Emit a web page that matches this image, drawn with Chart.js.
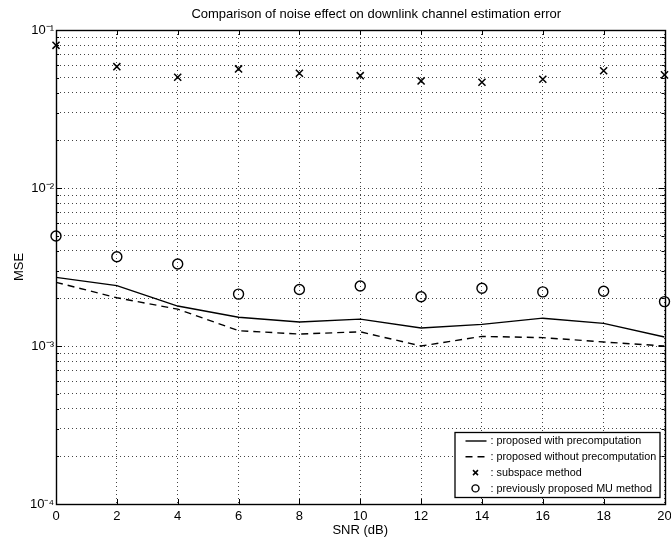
<!DOCTYPE html>
<html>
<head>
<meta charset="utf-8">
<style>
  html, body { margin: 0; padding: 0; background: #fff; }
  #wrap { width: 671px; height: 540px; }
</style>
<script src="https://cdn.jsdelivr.net/npm/chart.js@4/dist/chart.umd.min.js"></script>
</head>
<body>
<div id="wrap"><canvas id="c" width="671" height="540"></canvas></div>
<script>
const snr = [0, 2, 4, 6, 8, 10, 12, 14, 16, 18, 20];
const mseWithPre    = [0.00272, 0.00241, 0.00179, 0.00152, 0.00142, 0.00148, 0.00130, 0.00137, 0.00150, 0.00139, 0.00114];
const mseWithoutPre = [0.00253, 0.00202, 0.00171, 0.00125, 0.00119, 0.00123, 0.00100, 0.00115, 0.00113, 0.00106, 0.00100];
const mseSubspace   = [0.0800, 0.0586, 0.0502, 0.0567, 0.0532, 0.0514, 0.0476, 0.0467, 0.0488, 0.0552, 0.0520];
const mseMU         = [0.00497, 0.00367, 0.00330, 0.00213, 0.00228, 0.00240, 0.00205, 0.00232, 0.00220, 0.00222, 0.00191];
const xTickValues = [0, 2, 4, 6, 8, 10, 12, 14, 16, 18, 20];
const yDecades = [-4, -3, -2, -1];
const yTickLabels = ['10\u207B\u2074', '10\u207B\u00B3', '10\u207B\u00B2', '10\u207B\u00B9'];
const legendLabels = [': proposed with precomputation', ': proposed without precomputation', ': subspace method', ': previously proposed MU method'];
const chartTitle = 'Comparison of noise effect on downlink channel estimation error';

const FONT = 'Liberation Sans, Arial, Helvetica, sans-serif';
const toXY = (ys) => snr.map((x, i) => ({x, y: ys[i]}));

const titleShift = {
  id: 'titleShift',
  afterLayout(chart) {
    const tb = chart.titleBlock;
    if (tb) { tb.left = chart.chartArea.left + 32; tb.right = chart.chartArea.right; }
  }
};

const frameAndTicks = {
  id: 'frameAndTicks',
  afterDraw(chart) {
    const {ctx, chartArea: a, scales} = chart;
    ctx.save();
    ctx.strokeStyle = '#000';
    ctx.lineWidth = 1;
    ctx.beginPath();
    scales.x.ticks.forEach(t => {
      const px = Math.round(scales.x.getPixelForValue(t.value)) + 0.5;
      ctx.moveTo(px, a.bottom); ctx.lineTo(px, a.bottom - 5);
      ctx.moveTo(px, a.top); ctx.lineTo(px, a.top + 5);
    });
    scales.y.ticks.forEach(t => {
      const py = Math.round(scales.y.getPixelForValue(t.value)) + 0.5;
      const isMajor = Math.abs(Math.log10(t.value) - Math.round(Math.log10(t.value))) < 1e-9;
      const len = isMajor ? 6 : 3;
      ctx.moveTo(a.left, py); ctx.lineTo(a.left + len, py);
      ctx.moveTo(a.right, py); ctx.lineTo(a.right - len, py);
    });
    ctx.stroke();
    ctx.lineWidth = 1.4;
    ctx.strokeRect(Math.round(a.left) + 0.5, Math.round(a.top) + 0.5, Math.round(a.right - a.left), Math.round(a.bottom - a.top));
    ctx.restore();
  }
};

const boxLegend = {
  id: 'boxLegend',
  afterDatasetsDraw(chart) {
    const {ctx, chartArea: a} = chart;
    const right = a.right - 5, bottom = a.bottom - 7;
    const w = 205, h = 65;
    const left = right - w, top = bottom - h;
    ctx.save();
    ctx.fillStyle = '#fff';
    ctx.fillRect(left, top, w, h);
    ctx.strokeStyle = '#000';
    ctx.lineWidth = 1.3;
    ctx.strokeRect(left + 0.5, top + 0.5, w, h);
    ctx.font = '10.8px ' + FONT;
    ctx.fillStyle = '#000';
    ctx.textBaseline = 'middle';
    ctx.textAlign = 'left';
    chart.data.datasets.forEach((ds, i) => {
      const cy = top + 9 + i * 15.8;
      const sx0 = left + 11, sx1 = left + 32, mx = left + 21;
      ctx.strokeStyle = '#000';
      if (ds.showLine !== false) {
        ctx.lineWidth = ds.borderWidth;
        ctx.setLineDash(ds.borderDash || []);
        ctx.beginPath(); ctx.moveTo(sx0, cy); ctx.lineTo(sx1, cy); ctx.stroke();
        ctx.setLineDash([]);
      } else {
        ctx.lineWidth = ds.pointBorderWidth;
        ctx.beginPath();
        if (ds.pointStyle === 'crossRot') {
          const r = 2.5;
          ctx.moveTo(mx - r, cy - r); ctx.lineTo(mx + r, cy + r);
          ctx.moveTo(mx - r, cy + r); ctx.lineTo(mx + r, cy - r);
        } else {
          ctx.arc(mx, cy, 3.5, 0, Math.PI * 2);
        }
        ctx.stroke();
      }
      ctx.fillText(legendLabels[i], left + 36, cy + 0.5);
    });
    ctx.restore();
  }
};

new Chart(document.getElementById('c'), {
  type: 'line',
  data: {
    datasets: [
      { data: toXY(mseWithPre), borderColor: '#000', borderWidth: 1.4, pointRadius: 0, tension: 0, fill: false },
      { data: toXY(mseWithoutPre), borderColor: '#000', borderWidth: 1.4, borderDash: [7, 5], pointRadius: 0, tension: 0, fill: false },
      { data: toXY(mseSubspace), showLine: false, pointStyle: 'crossRot', pointRadius: 5, pointBorderWidth: 1.5, pointBorderColor: '#000', pointBackgroundColor: '#000', borderColor: '#000', clip: false },
      { data: toXY(mseMU), showLine: false, pointStyle: 'circle', pointRadius: 5, pointBorderWidth: 1.4, pointBorderColor: '#000', pointBackgroundColor: 'rgba(0,0,0,0)', borderColor: '#000', clip: false }
    ]
  },
  options: {
    responsive: false,
    animation: false,
    events: [],
    layout: { padding: { left: 0, right: 0, top: 0, bottom: 0 } },
    plugins: {
      legend: { display: false },
      tooltip: { enabled: false },
      title: {
        display: true,
        text: chartTitle,
        fullSize: false,
        color: '#000',
        font: { family: FONT, size: 13, weight: 'normal', lineHeight: 1.2 },
        padding: { top: 7, bottom: 7.4 }
      }
    },
    scales: {
      x: {
        type: 'linear',
        min: 0, max: 20,
        afterBuildTicks: (s) => { s.ticks = xTickValues.map(v => ({value: v})); },
        afterFit: (s) => { s.height = 36; s.paddingRight = 6; s.paddingLeft = 0; },
        grid: { color: '#444', lineWidth: 1, drawTicks: false },
        border: { display: false, dash: [1, 3] },
        ticks: { color: '#000', font: { family: FONT, size: 13 }, padding: 5, maxRotation: 0, autoSkip: false },
        title: { display: true, text: 'SNR (dB)', color: '#000', font: { family: FONT, size: 13 }, padding: { top: 0, bottom: 2 } }
      },
      y: {
        type: 'logarithmic',
        min: 1e-4, max: 1e-1,
        afterBuildTicks: (s) => {
          const t = [];
          yDecades.forEach(e => {
            if (e === -1) { t.push({value: Math.pow(10, e)}); return; }
            for (let m = 1; m <= 9; m++) t.push({value: +(m * Math.pow(10, e)).toPrecision(6)});
          });
          s.ticks = t;
        },
        afterFit: (s) => { s.width = 56; },
        grid: { color: '#444', lineWidth: 1, drawTicks: false },
        border: { display: false, dash: [1, 3] },
        ticks: {
          color: '#000', font: { family: FONT, size: 13 }, padding: 2, autoSkip: false,
          callback: (v) => {
            const e = Math.log10(v);
            const k = yDecades.indexOf(Math.round(e));
            return (Math.abs(e - Math.round(e)) < 1e-9 && k >= 0) ? yTickLabels[k] : '';
          }
        },
        title: { display: true, text: 'MSE', color: '#000', font: { family: FONT, size: 13 }, padding: { top: 12, bottom: 0 } }
      }
    }
  },
  plugins: [titleShift, boxLegend, frameAndTicks]
});
</script>
</body>
</html>
